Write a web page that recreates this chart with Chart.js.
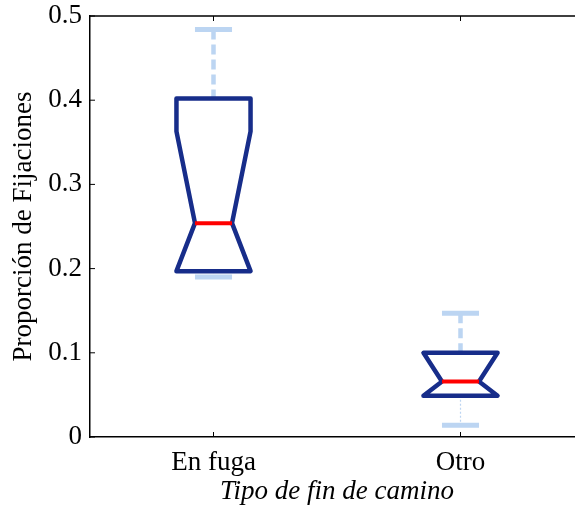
<!DOCTYPE html>
<html>
<head>
<meta charset="utf-8">
<script src="https://cdn.jsdelivr.net/npm/chart.js@4/dist/chart.umd.min.js"></script>
<style>
  html, body { margin: 0; padding: 0; overflow: hidden; background: #fff; }
  #wrap { width: 584px; height: 510px; }
</style>
</head>
<body>
<div id="wrap"><canvas id="c" width="584" height="510"></canvas></div>
<script>
// Box-plot statistics per category
const categories  = ['En fuga', 'Otro'];
const whiskerLow  = [0.190, 0.014];
const q1          = [0.197, 0.049];
const median      = [0.254, 0.066];
const q3          = [0.402, 0.100];
const whiskerHigh = [0.484, 0.147];
const notchLow    = [0.197, 0.049];
const notchHigh   = [0.363, 0.100];
const yTicks      = [0, 0.1, 0.2, 0.3, 0.4, 0.5];

const FONT = "'Liberation Serif', 'Times New Roman', serif";
const BOX_COLOR = '#172d8a';
const MEDIAN_COLOR = '#ff0000';
const WHISKER_COLOR = '#bcd5f2';

// Notched boxes, whiskers, inward ticks and the top frame line
const boxPlotPlugin = {
  id: 'notchedBoxes',
  afterDatasetsDraw(chart) {
    const { ctx, scales: { x, y }, chartArea: a } = chart;
    const band = x.getPixelForValue(1) - x.getPixelForValue(0);
    const boxHalf = band * 0.15;
    const notchHalf = boxHalf / 2;
    const capHalf = boxHalf / 2;
    ctx.save();
    ctx.lineCap = 'butt';
    categories.forEach((_, i) => {
      const cx = x.getPixelForValue(i);
      const yWL = y.getPixelForValue(whiskerLow[i]);
      const yQ1 = y.getPixelForValue(q1[i]);
      const yMed = y.getPixelForValue(median[i]);
      const yQ3 = y.getPixelForValue(q3[i]);
      const yWH = y.getPixelForValue(whiskerHigh[i]);
      const yNL = y.getPixelForValue(notchLow[i]);
      const yNH = y.getPixelForValue(notchHigh[i]);

      // upper whisker: thick dashed
      ctx.strokeStyle = WHISKER_COLOR;
      ctx.lineWidth = 4.5;
      ctx.setLineDash([10, 5]);
      ctx.beginPath(); ctx.moveTo(cx, yWH); ctx.lineTo(cx, yQ3); ctx.stroke();
      // lower whisker: thin dotted
      ctx.lineWidth = 1.2;
      ctx.setLineDash([2, 2]);
      ctx.beginPath(); ctx.moveTo(cx, yQ1); ctx.lineTo(cx, yWL); ctx.stroke();
      // caps
      ctx.setLineDash([]);
      ctx.lineWidth = 5;
      ctx.beginPath();
      ctx.moveTo(cx - capHalf, yWH); ctx.lineTo(cx + capHalf, yWH);
      ctx.moveTo(cx - capHalf, yWL); ctx.lineTo(cx + capHalf, yWL);
      ctx.stroke();

      // notched box outline
      ctx.strokeStyle = BOX_COLOR;
      ctx.lineWidth = 4.5;
      ctx.lineJoin = 'round';
      ctx.beginPath();
      ctx.moveTo(cx - boxHalf, yQ3);
      ctx.lineTo(cx + boxHalf, yQ3);
      ctx.lineTo(cx + boxHalf, yNH);
      ctx.lineTo(cx + notchHalf, yMed);
      ctx.lineTo(cx + boxHalf, yNL);
      ctx.lineTo(cx + boxHalf, yQ1);
      ctx.lineTo(cx - boxHalf, yQ1);
      ctx.lineTo(cx - boxHalf, yNL);
      ctx.lineTo(cx - notchHalf, yMed);
      ctx.lineTo(cx - boxHalf, yNH);
      ctx.closePath();
      ctx.stroke();

      // median
      ctx.strokeStyle = MEDIAN_COLOR;
      ctx.lineWidth = 4;
      ctx.beginPath(); ctx.moveTo(cx - notchHalf, yMed); ctx.lineTo(cx + notchHalf, yMed); ctx.stroke();
    });

    // frame and inward ticks
    ctx.strokeStyle = '#000';
    ctx.lineWidth = 1.5;
    ctx.beginPath();
    ctx.moveTo(a.left, a.top); ctx.lineTo(a.right, a.top);
    ctx.moveTo(a.right, a.top); ctx.lineTo(a.right, a.bottom);
    ctx.stroke();
    ctx.lineWidth = 1;
    ctx.beginPath();
    yTicks.forEach(v => {
      const py = y.getPixelForValue(v);
      ctx.moveTo(a.left, py); ctx.lineTo(a.left + 5, py);
      ctx.moveTo(a.right, py); ctx.lineTo(a.right - 5, py);
    });
    categories.forEach((_, i) => {
      const px = x.getPixelForValue(i);
      ctx.moveTo(px, a.bottom); ctx.lineTo(px, a.bottom - 5);
      ctx.moveTo(px, a.top); ctx.lineTo(px, a.top + 5);
    });
    ctx.stroke();
    ctx.restore();
  }
};

new Chart(document.getElementById('c'), {
  type: 'bar',
  data: {
    labels: categories,
    datasets: [{
      data: categories.map((_, i) => [q1[i], q3[i]]),
      backgroundColor: 'rgba(0,0,0,0)',
      borderWidth: 0
    }]
  },
  options: {
    responsive: false,
    animation: false,
    devicePixelRatio: 1,
    layout: { padding: { top: 16, right: 0, bottom: 0, left: 0 } },
    plugins: { legend: { display: false }, tooltip: { enabled: false } },
    scales: {
      x: {
        type: 'category',
        offset: true,
        grid: { display: false, drawTicks: false },
        border: { display: true, color: '#000', width: 1.5 },
        ticks: { color: '#000', font: { family: FONT, size: 27 }, padding: 10, maxRotation: 0 },
        title: { display: true, text: 'Tipo de fin de camino', color: '#000',
                 font: { family: FONT, size: 27, style: 'italic' }, padding: { top: 0, bottom: 2 } },
        afterFit(s) { s.height = 73; s.paddingLeft = 0; s.paddingRight = 0; }
      },
      y: {
        min: 0, max: 0.5,
        afterBuildTicks(s) { s.ticks = yTicks.map(v => ({ value: v })); },
        grid: { display: false, drawTicks: false },
        border: { display: true, color: '#000', width: 1.5 },
        ticks: { color: '#000', font: { family: FONT, size: 27 }, padding: 8,
                 callback: v => String(v) },
        title: { display: true, text: 'Proporción de Fijaciones', color: '#000',
                 font: { family: FONT, size: 27 }, padding: { top: 8, bottom: 0 } },
        afterFit(s) { s.width = 90; s.paddingTop = 0; s.paddingBottom = 0; }
      }
    }
  },
  plugins: [boxPlotPlugin]
});
</script>
</body>
</html>
